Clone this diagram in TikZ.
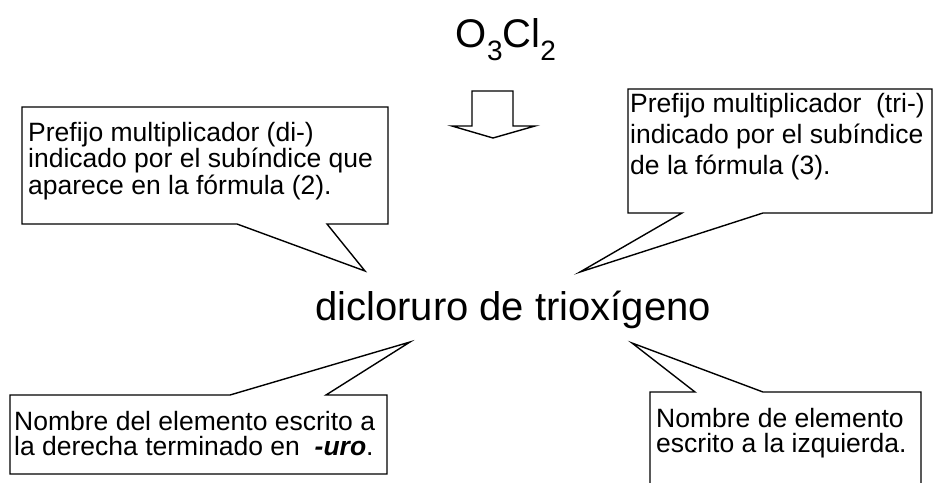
\documentclass[tikz,border=0pt]{standalone}
\usepackage{fontspec}
\setmainfont{Liberation Sans}
\begin{document}
\begin{tikzpicture}[x=1pt,y=-1pt,every node/.style={black,inner sep=0pt},
  nota/.style={font=\fontsize{26.5}{25}\selectfont,align=left,anchor=base west},
  globo/.style={draw,line width=1.4pt,line join=miter}]
\useasboundingbox (0,0) rectangle (939,482);
%	callout boxes: corners and tail tips
\coordinate (a1) at ( 22,107); \coordinate (a2) at (388,224); \coordinate (ta) at (365,271);
\coordinate (b1) at (628, 89); \coordinate (b2) at (932,213); \coordinate (tb) at (580,272);
\coordinate (c1) at ( 10,395); \coordinate (c2) at (387,474); \coordinate (tc) at (410,342);
\coordinate (d1) at (650,392); \coordinate (d2) at (921,495); \coordinate (td) at (632,343);

\draw[globo] (a1) -- (a1-|a2) -- (a2) -- (327,224) -- (ta) -- (237,224) -- (a2-|a1) -- cycle;
\draw[globo] (b1) -- (b1-|b2) -- (b2) -- (763,213) -- (tb) -- (682,213) -- (b2-|b1) -- cycle;
\draw[globo] (c1) -- (230,395) -- (tc) -- (326,395) -- (c1-|c2) -- (c2) -- (c2-|c1) -- cycle;
\draw[globo] (d2-|d1) -- (d1) -- (695,392) -- (td) -- (763,392) -- (d1-|d2) -- (d2);

\draw[globo] (472,91) -- (513,91) -- (513,126) -- (535,126) -- (493,138) -- (452,126) -- (472,126) -- cycle;

\node[anchor=base] (formula) at (506,47) {\fontsize{40}{44}\selectfont O\raisebox{-0.33em}{\fontsize{28}{30}\selectfont 3}Cl\raisebox{-0.33em}{\fontsize{28}{30}\selectfont 2}};
\node[anchor=base west] (nombre) at (315,320) {\fontsize{40}{44}\selectfont dicloruro de trioxígeno};

\node[nota] (notaa) at (28,194) {Prefijo multiplicador (di-)\\indicado por el subíndice que\\aparece en la fórmula (2).};
\node[nota,font=\fontsize{26.5}{31}\selectfont] (notab) at (630,174) {Prefijo multiplicador \ (tri-)\\indicado por el subíndice\\de la fórmula (3).};
\node[nota] (notac) at (14,455) {Nombre del elemento escrito a\\la derecha terminado en \ \textbf{\textit{-uro}}.};
\node[nota] (notad) at (656,452) {Nombre de elemento\\escrito a la izquierda.};

\end{tikzpicture}
\end{document}
